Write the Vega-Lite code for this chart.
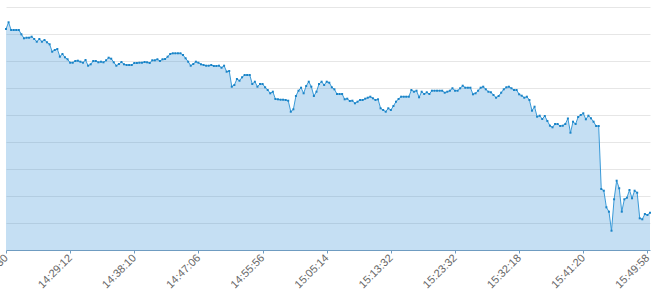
{
  "$schema": "https://vega.github.io/schema/vega-lite/v6.json",
  "autosize": {"type": "none"},
  "padding": {"left": 6, "top": 7, "right": 13, "bottom": 53},
  "width": 644,
  "height": 240,
  "background": "#ffffff",
  "config": {"view": {"stroke": null}},
  "data": {"values": [
    {"t":"14:20:30","v":22.1},{"t":"14:20:50","v":22.77},{"t":"14:21:10","v":22},{"t":"14:21:30","v":22},{"t":"14:21:50","v":22},
    {"t":"14:22:10","v":22},{"t":"14:22:30","v":21.57},{"t":"14:22:50","v":21.17},{"t":"14:23:10","v":21.23},{"t":"14:23:30","v":21.23},
    {"t":"14:23:50","v":21.33},{"t":"14:24:10","v":21.1},{"t":"14:24:30","v":20.83},{"t":"14:24:50","v":21.1},{"t":"14:25:10","v":20.83},
    {"t":"14:25:30","v":21},{"t":"14:25:50","v":20.77},{"t":"14:26:10","v":20.57},{"t":"14:26:30","v":19.83},{"t":"14:26:50","v":20},
    {"t":"14:27:10","v":20.1},{"t":"14:27:30","v":19.33},{"t":"14:27:50","v":19.6},{"t":"14:28:10","v":19.27},{"t":"14:28:30","v":19.07},
    {"t":"14:29:12","v":18.73},{"t":"14:29:32","v":18.73},{"t":"14:29:52","v":18.9},{"t":"14:30:12","v":18.93},{"t":"14:30:32","v":18.83},
    {"t":"14:30:52","v":18.73},{"t":"14:31:12","v":19},{"t":"14:31:32","v":18.43},{"t":"14:31:52","v":18.57},{"t":"14:32:12","v":18.9},
    {"t":"14:32:32","v":18.9},{"t":"14:32:52","v":18.77},{"t":"14:33:12","v":18.83},{"t":"14:33:32","v":18.77},{"t":"14:33:52","v":18.97},
    {"t":"14:34:12","v":19.23},{"t":"14:34:32","v":19.13},{"t":"14:34:52","v":18.77},{"t":"14:35:12","v":18.43},{"t":"14:35:32","v":18.6},
    {"t":"14:35:52","v":18.8},{"t":"14:36:12","v":18.57},{"t":"14:36:32","v":18.5},{"t":"14:36:52","v":18.5},{"t":"14:37:12","v":18.5},
    {"t":"14:38:10","v":18.7},{"t":"14:38:30","v":18.7},{"t":"14:38:50","v":18.73},{"t":"14:39:10","v":18.73},{"t":"14:39:30","v":18.8},
    {"t":"14:39:50","v":18.77},{"t":"14:40:10","v":18.7},{"t":"14:40:30","v":18.97},{"t":"14:40:50","v":18.97},{"t":"14:41:10","v":19.07},
    {"t":"14:41:30","v":18.9},{"t":"14:41:50","v":19.07},{"t":"14:42:10","v":19.1},{"t":"14:42:30","v":19.33},{"t":"14:42:50","v":19.6},
    {"t":"14:43:10","v":19.67},{"t":"14:43:30","v":19.67},{"t":"14:43:50","v":19.67},{"t":"14:44:10","v":19.67},{"t":"14:44:30","v":19.5},
    {"t":"14:44:50","v":19.17},{"t":"14:45:10","v":18.83},{"t":"14:45:30","v":18.43},{"t":"14:45:50","v":18.6},{"t":"14:46:10","v":18.83},
    {"t":"14:47:06","v":18.73},{"t":"14:47:26","v":18.57},{"t":"14:47:46","v":18.5},{"t":"14:48:06","v":18.43},{"t":"14:48:26","v":18.43},
    {"t":"14:48:46","v":18.5},{"t":"14:49:06","v":18.4},{"t":"14:49:26","v":18.4},{"t":"14:49:46","v":18.43},{"t":"14:50:06","v":18.23},
    {"t":"14:50:26","v":18.43},{"t":"14:50:46","v":17.83},{"t":"14:51:06","v":17.9},{"t":"14:51:26","v":16.33},{"t":"14:51:46","v":16.5},
    {"t":"14:52:06","v":17.1},{"t":"14:52:26","v":16.93},{"t":"14:52:46","v":17.27},{"t":"14:53:06","v":17.5},{"t":"14:53:26","v":17.5},
    {"t":"14:53:46","v":17.5},{"t":"14:54:06","v":16.6},{"t":"14:54:26","v":16.83},{"t":"14:54:46","v":16.33},{"t":"14:55:06","v":16.6},
    {"t":"14:55:56","v":16.6},{"t":"14:56:16","v":16.27},{"t":"14:56:36","v":16},{"t":"14:56:56","v":15.67},{"t":"14:57:16","v":15.83},
    {"t":"14:57:36","v":15.1},{"t":"14:57:56","v":15.07},{"t":"14:58:16","v":15.03},{"t":"14:58:36","v":15.03},{"t":"14:58:56","v":15},
    {"t":"14:59:16","v":14.93},{"t":"14:59:36","v":13.83},{"t":"14:59:56","v":14.07},{"t":"15:00:16","v":15.4},{"t":"15:00:36","v":15.93},
    {"t":"15:00:56","v":16.23},{"t":"15:01:16","v":15.67},{"t":"15:01:36","v":16.4},{"t":"15:01:56","v":16.83},{"t":"15:02:16","v":16.33},
    {"t":"15:02:36","v":15.4},{"t":"15:02:56","v":15.83},{"t":"15:03:16","v":16.6},{"t":"15:03:36","v":16.83},{"t":"15:03:56","v":16.5},
    {"t":"15:05:14","v":16.83},{"t":"15:05:34","v":16.73},{"t":"15:05:54","v":16.27},{"t":"15:06:14","v":16.07},{"t":"15:06:34","v":15.6},
    {"t":"15:06:54","v":15.6},{"t":"15:07:14","v":15.6},{"t":"15:07:34","v":15.07},{"t":"15:07:54","v":15.13},{"t":"15:08:14","v":14.9},
    {"t":"15:08:34","v":14.93},{"t":"15:08:54","v":14.67},{"t":"15:09:14","v":14.83},{"t":"15:09:34","v":15},{"t":"15:09:54","v":15},
    {"t":"15:10:14","v":15.13},{"t":"15:10:34","v":15.23},{"t":"15:10:54","v":15.33},{"t":"15:11:14","v":15.17},{"t":"15:11:34","v":15},
    {"t":"15:11:54","v":15.07},{"t":"15:12:14","v":14.17},{"t":"15:12:34","v":14},{"t":"15:12:54","v":13.83},{"t":"15:13:14","v":14.17},
    {"t":"15:13:32","v":14},{"t":"15:13:52","v":14.4},{"t":"15:14:12","v":14.83},{"t":"15:14:32","v":15.1},{"t":"15:14:52","v":15.33},
    {"t":"15:15:12","v":15.33},{"t":"15:15:32","v":15.33},{"t":"15:15:52","v":15.33},{"t":"15:16:12","v":16},{"t":"15:16:32","v":15.83},
    {"t":"15:16:52","v":15.93},{"t":"15:17:12","v":15.27},{"t":"15:17:32","v":15.83},{"t":"15:17:52","v":15.6},{"t":"15:18:12","v":15.77},
    {"t":"15:18:32","v":15.6},{"t":"15:18:52","v":15.93},{"t":"15:19:12","v":15.93},{"t":"15:19:32","v":15.93},{"t":"15:19:52","v":15.93},
    {"t":"15:20:12","v":15.93},{"t":"15:20:32","v":15.73},{"t":"15:20:52","v":15.83},{"t":"15:21:12","v":15.93},{"t":"15:21:32","v":16.17},
    {"t":"15:23:32","v":15.93},{"t":"15:23:52","v":15.93},{"t":"15:24:12","v":16.17},{"t":"15:24:32","v":16.43},{"t":"15:24:52","v":16.23},
    {"t":"15:25:12","v":16.23},{"t":"15:25:32","v":16.23},{"t":"15:25:52","v":15.57},{"t":"15:26:12","v":15.67},{"t":"15:26:32","v":15.93},
    {"t":"15:26:52","v":16.23},{"t":"15:27:12","v":16.33},{"t":"15:27:32","v":16.07},{"t":"15:27:52","v":15.83},{"t":"15:28:12","v":15.77},
    {"t":"15:28:32","v":15.5},{"t":"15:28:52","v":15.23},{"t":"15:29:12","v":15.4},{"t":"15:29:32","v":15.73},{"t":"15:29:52","v":16.07},
    {"t":"15:30:12","v":16.27},{"t":"15:30:32","v":16.33},{"t":"15:30:52","v":16.17},{"t":"15:31:12","v":16},{"t":"15:31:32","v":16},
    {"t":"15:32:18","v":15.57},{"t":"15:32:38","v":15.43},{"t":"15:32:58","v":15.23},{"t":"15:33:18","v":15.33},{"t":"15:33:38","v":15},
    {"t":"15:33:58","v":13.93},{"t":"15:34:18","v":14.33},{"t":"15:34:38","v":13.33},{"t":"15:34:58","v":13.43},{"t":"15:35:18","v":13.1},
    {"t":"15:35:38","v":13.4},{"t":"15:35:58","v":12.9},{"t":"15:36:18","v":12.43},{"t":"15:36:38","v":12.27},{"t":"15:36:58","v":12.6},
    {"t":"15:37:18","v":12.6},{"t":"15:37:38","v":12.4},{"t":"15:37:58","v":12.43},{"t":"15:38:18","v":12.6},{"t":"15:38:38","v":13.15},
    {"t":"15:38:58","v":11.73},{"t":"15:39:18","v":12.83},{"t":"15:39:38","v":12.6},{"t":"15:39:58","v":13.3},{"t":"15:40:18","v":13.5},
    {"t":"15:41:20","v":13.67},{"t":"15:41:40","v":13.07},{"t":"15:42:00","v":13.43},{"t":"15:42:20","v":13.17},{"t":"15:42:40","v":12.83},
    {"t":"15:43:00","v":12.4},{"t":"15:43:20","v":12.4},{"t":"15:43:40","v":6.1},{"t":"15:44:00","v":5.93},{"t":"15:44:20","v":4.27},
    {"t":"15:44:40","v":3.83},{"t":"15:45:00","v":1.93},{"t":"15:45:20","v":5.07},{"t":"15:45:40","v":6.93},{"t":"15:46:00","v":6.17},
    {"t":"15:46:20","v":3.83},{"t":"15:46:40","v":5.07},{"t":"15:47:00","v":5.23},{"t":"15:47:20","v":6},{"t":"15:47:40","v":5.17},
    {"t":"15:48:00","v":5.93},{"t":"15:48:20","v":5.73},{"t":"15:48:40","v":3.17},{"t":"15:49:00","v":3.07},{"t":"15:49:20","v":3.6},
    {"t":"15:49:58","v":3.5},{"t":"15:50:18","v":3.73}
  ]},
  "encoding": {
    "x": {
      "field": "t", "type": "ordinal", "sort": null,
      "scale": {"type": "point", "padding": 0},
      "axis": {
        "title": null,
        "values": ["14:20:30","14:29:12","14:38:10","14:47:06","14:55:56","15:05:14","15:13:32","15:23:32","15:32:18","15:41:20","15:49:58"],
        "labelAngle": -45, "labelAlign": "right", "labelBaseline": "middle",
        "labelFont": "Liberation Sans", "labelFontSize": 11, "labelColor": "#666666",
        "labelPadding": 3, "labelOverlap": false, "labelBound": false, "labelFlush": false,
        "domainColor": "#6f9cc1", "tickColor": "#6f9cc1", "tickSize": 3, "offset": 3,
        "grid": false
      }
    },
    "y": {
      "field": "v", "type": "quantitative",
      "scale": {"domain": [0.3, 24.3], "nice": false, "zero": false},
      "axis": {
        "title": null, "labels": false, "ticks": false, "domain": false,
        "values": [2.7, 5.4, 8.1, 10.8, 13.5, 16.2, 18.9, 21.6, 24.3],
        "grid": true, "gridColor": "#e6e6e6", "gridWidth": 1
      }
    }
  },
  "layer": [
    {"mark": {"type": "area", "color": "#2a8ad4", "fillOpacity": 0.27, "line": false}},
    {"mark": {"type": "line", "color": "#3a9ad8", "strokeWidth": 1, "point": {"shape": "square", "size": 4, "filled": true, "color": "#1a84c7", "opacity": 1}}}
  ]
}
